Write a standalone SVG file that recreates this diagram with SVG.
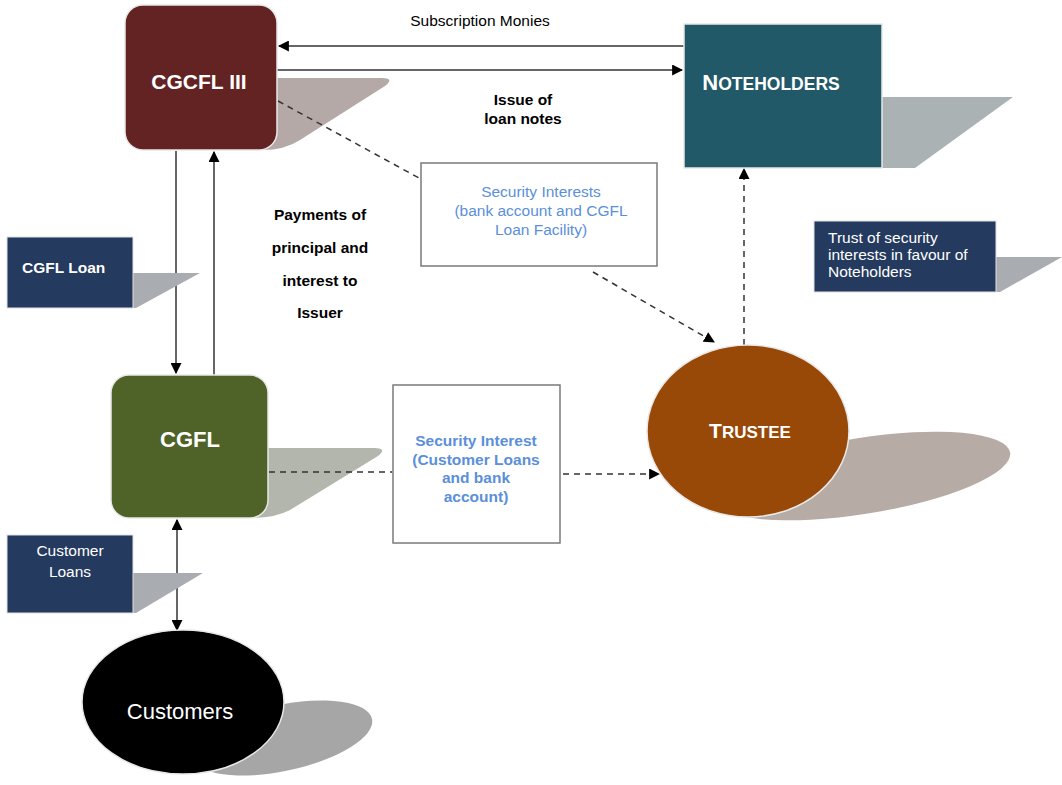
<svg xmlns="http://www.w3.org/2000/svg" width="1062" height="785" viewBox="0 0 1062 785">
<defs>
<style>
.t{font-family:"Liberation Sans",Arial,sans-serif}
.w{fill:#fff}
.lbl{font-family:"Liberation Sans",Arial,sans-serif;font-size:15.5px;fill:#000}
.b{font-weight:bold}
.blue{fill:#5b8fd9}
.ln{stroke:#333;stroke-width:1.5;fill:none}
.dash{stroke:#333;stroke-width:1.5;fill:none;stroke-dasharray:6,5}
.box{fill:#fff;stroke:#7a7a7a;stroke-width:1.5}
.node{stroke:#e8e8e8;stroke-width:1.5}
.tag{fill:#243a5e;stroke:#e0e0e0;stroke-width:1}
.tagsh{fill:#a9adb2}
</style>
<marker id="ah2" viewBox="0 0 10 10" refX="9" refY="5" markerWidth="11" markerHeight="11" markerUnits="userSpaceOnUse" orient="auto-start-reverse">
<path d="M0,0 L10,5 L0,10 z" fill="#000"/>
</marker>
</defs>
<rect width="1062" height="785" fill="#fff"/>

<g id="shadows">
<path d="M270,78 L382,78 Q395,78 385,86 L300,140 Q285,150 262,150 Z" fill="#b4a9a7"/>
<path d="M882,97 L1013,97 L915,168 L882,168 Z" fill="#aab2b4"/>
<path d="M262,448 L374,448 Q388,448 378,456 L290,510 Q275,518 252,518 Z" fill="#b3b6ad"/>
<ellipse cx="862" cy="476" rx="150" ry="38" transform="rotate(-9 862 476)" fill="#b7aca5"/>
<ellipse cx="282" cy="738" rx="92" ry="33" transform="rotate(-12 282 738)" fill="#a6a6a6"/>
</g>

<g id="connectors">
<line class="ln" x1="684" y1="46" x2="279" y2="46" marker-end="url(#ah2)"/>
<line class="ln" x1="277" y1="70" x2="682" y2="70" marker-end="url(#ah2)"/>
<line class="dash" x1="278" y1="101" x2="419" y2="178"/>
<line class="dash" x1="593" y1="272" x2="714" y2="342" marker-end="url(#ah2)"/>
<line class="dash" x1="744" y1="345" x2="744" y2="169" marker-end="url(#ah2)"/>
<line class="ln" x1="176" y1="151" x2="176" y2="373" marker-end="url(#ah2)"/>
<line class="ln" x1="214" y1="375" x2="214" y2="152" marker-end="url(#ah2)"/>
<line class="dash" x1="269" y1="472" x2="392" y2="472"/>
<line class="dash" x1="563" y1="474" x2="659" y2="474" marker-end="url(#ah2)"/>
<line class="ln" x1="177" y1="520" x2="177" y2="630" marker-start="url(#ah2)" marker-end="url(#ah2)"/>
</g>

<g id="cgcfl3">
<rect class="node" x="125" y="5" width="152" height="145" rx="18" fill="#632322"/>
<text class="t w b" x="199" y="89" font-size="21" text-anchor="middle">CGCFL III</text>
</g>

<g id="noteholders">
<rect class="node" x="684" y="24" width="198" height="144" fill="#215968"/>
<text class="t w b" x="771" y="90" text-anchor="middle"><tspan font-size="22">N</tspan><tspan font-size="17.5">OTEHOLDERS</tspan></text>
</g>

<g id="label-subscription">
<text class="lbl" x="480" y="26" text-anchor="middle">Subscription Monies</text>
</g>
<g id="label-issue">
<text class="lbl b" x="523" y="105" text-anchor="middle">Issue of</text>
<text class="lbl b" x="523" y="124" text-anchor="middle">loan notes</text>
</g>

<g id="security-interests">
<rect class="box" x="421" y="163" width="236" height="103"/>
<text class="t blue" font-size="15.5" x="541" y="197" text-anchor="middle">Security Interests</text>
<text class="t blue" font-size="15.5" x="541" y="216" text-anchor="middle">(bank account and CGFL</text>
<text class="t blue" font-size="15.5" x="541" y="235" text-anchor="middle">Loan Facility)</text>
</g>

<g id="trust-tag">
<path class="tagsh" d="M996,257 L1062,257 L1000,292 L996,292 Z"/>
<rect class="tag" x="814" y="221" width="182" height="71"/>
<text class="t w" font-size="15.5" x="828" y="243">Trust of security</text>
<text class="t w" font-size="15.5" x="828" y="260">interests in favour of</text>
<text class="t w" font-size="15.5" x="828" y="277">Noteholders</text>
</g>

<g id="cgfl-loan-tag">
<path class="tagsh" d="M133,273 L200,273 L136,308 L133,308 Z"/>
<rect class="tag" x="7" y="237" width="126" height="71"/>
<text class="t w b" font-size="15.5" x="22" y="273">CGFL Loan</text>
</g>

<g id="label-payments">
<text class="lbl b" x="320" y="220" text-anchor="middle">Payments of</text>
<text class="lbl b" x="320" y="253" text-anchor="middle">principal and</text>
<text class="lbl b" x="320" y="286" text-anchor="middle">interest to</text>
<text class="lbl b" x="320" y="318" text-anchor="middle">Issuer</text>
</g>

<g id="cgfl">
<rect class="node" x="111" y="375" width="157" height="143" rx="18" fill="#4f6228"/>
<text class="t w b" x="190" y="447" font-size="22" text-anchor="middle">CGFL</text>
</g>

<g id="security-interest-2">
<rect class="box" x="393" y="385" width="167" height="158"/>
<text class="t blue b" font-size="15.5" x="476" y="446" text-anchor="middle">Security Interest</text>
<text class="t blue b" font-size="15.5" x="476" y="465" text-anchor="middle">(Customer Loans</text>
<text class="t blue b" font-size="15.5" x="476" y="483" text-anchor="middle">and bank</text>
<text class="t blue b" font-size="15.5" x="476" y="502" text-anchor="middle">account)</text>
</g>

<g id="trustee">
<ellipse class="node" cx="748" cy="431" rx="101" ry="86" fill="#984807"/>
<text class="t w b" x="750" y="438" text-anchor="middle"><tspan font-size="21">T</tspan><tspan font-size="17">RUSTEE</tspan></text>
</g>

<g id="customer-loans-tag">
<path class="tagsh" d="M133,573 L203,573 L136,613 L133,613 Z"/>
<rect class="tag" x="7" y="535" width="126" height="78"/>
<text class="t w" font-size="15.5" x="70" y="556" text-anchor="middle">Customer</text>
<text class="t w" font-size="15.5" x="70" y="577" text-anchor="middle">Loans</text>
</g>

<g id="customers">
<ellipse class="node" cx="183" cy="702" rx="101" ry="72" fill="#000"/>
<text class="t w" x="180" y="719" font-size="22" text-anchor="middle">Customers</text>
</g>
</svg>
